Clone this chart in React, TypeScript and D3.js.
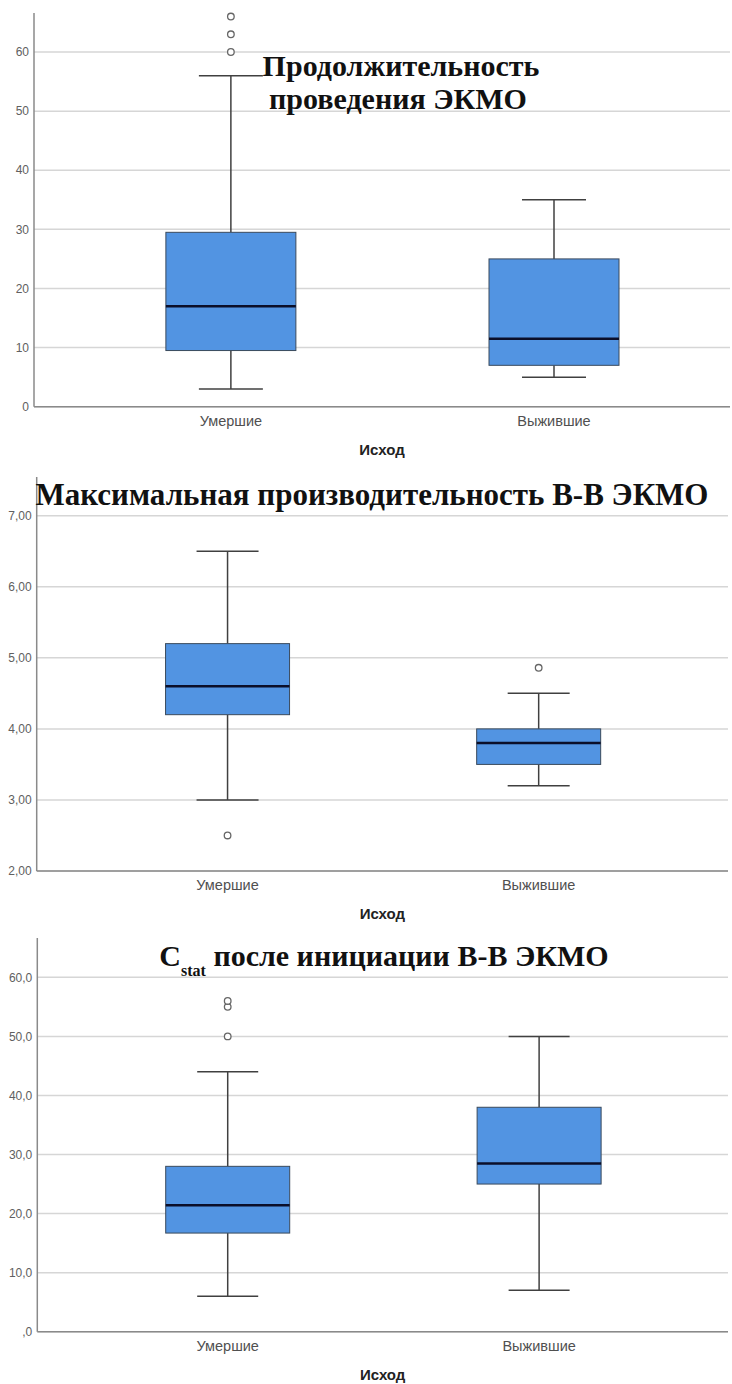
import { scaleLinear, scalePoint } from 'd3'

const width = 732
const height = 1384

const categories = ['Умершие', 'Выжившие']
const axisTitle = 'Исход'

// Продолжительность проведения ЭКМО
const durationLow = [3, 5]
const durationQ1 = [9.5, 7]
const durationMedian = [17, 11.5]
const durationQ3 = [29.5, 25]
const durationHigh = [56, 35]
const durationOutliers = [[60, 63, 66], []]
const durationTicks = [0, 10, 20, 30, 40, 50, 60]
const durationTickLabels = ['0', '10', '20', '30', '40', '50', '60']

// Максимальная производительность В-В ЭКМО
const flowLow = [3.0, 3.2]
const flowQ1 = [4.2, 3.5]
const flowMedian = [4.6, 3.8]
const flowQ3 = [5.2, 4.0]
const flowHigh = [6.5, 4.5]
const flowOutliers = [[2.5], [4.86]]
const flowTicks = [2, 3, 4, 5, 6, 7]
const flowTickLabels = ['2,00', '3,00', '4,00', '5,00', '6,00', '7,00']

// Cstat после инициации В-В ЭКМО
const cstatLow = [6, 7]
const cstatQ1 = [16.7, 25]
const cstatMedian = [21.4, 28.5]
const cstatQ3 = [28, 38]
const cstatHigh = [44, 50]
const cstatOutliers = [[50, 55, 56], []]
const cstatTicks = [0, 10, 20, 30, 40, 50, 60]
const cstatTickLabels = [',0', '10,0', '20,0', '30,0', '40,0', '50,0', '60,0']

const boxFill = '#5294e2'
const sans = 'Arial, "Liberation Sans", sans-serif'
const serif = '"Times New Roman", "Liberation Serif", serif'

function BoxPanel({ frame, domain, ticks, tickLabels, low, q1, median, q3, high, outliers, children }) {
  const { top, bottom, left, right, padding, align, boxWidth, capWidth } = frame
  const y = scaleLinear().domain(domain).range([bottom, top])
  const x = scalePoint().domain(categories).range([left, right]).padding(padding).align(align)
  const mid = (left + right) / 2

  return (
    <g>
      {ticks.map((t, i) => (
        <g key={t}>
          <line x1={left} x2={right} y1={y(t)} y2={y(t)} stroke="#d6d6d6" strokeWidth={1.5} />
          <text
            x={left - 5}
            y={y(t)}
            dy=".35em"
            textAnchor="end"
            fontFamily={sans}
            fontSize={12}
            fill="#606060"
          >
            {tickLabels[i]}
          </text>
        </g>
      ))}
      <line x1={left} x2={left} y1={top} y2={bottom} stroke="#8a8a8a" strokeWidth={1.5} />
      <line x1={left} x2={right} y1={bottom} y2={bottom} stroke="#8a8a8a" strokeWidth={1.5} />

      {categories.map((c, i) => {
        const cx = x(c)
        return (
          <g key={c}>
            <line x1={cx} x2={cx} y1={y(high[i])} y2={y(q3[i])} stroke="#404040" strokeWidth={1.5} />
            <line x1={cx} x2={cx} y1={y(q1[i])} y2={y(low[i])} stroke="#404040" strokeWidth={1.5} />
            <line
              x1={cx - capWidth / 2}
              x2={cx + capWidth / 2}
              y1={y(high[i])}
              y2={y(high[i])}
              stroke="#404040"
              strokeWidth={1.5}
            />
            <line
              x1={cx - capWidth / 2}
              x2={cx + capWidth / 2}
              y1={y(low[i])}
              y2={y(low[i])}
              stroke="#404040"
              strokeWidth={1.5}
            />
            <rect
              x={cx - boxWidth / 2}
              y={y(q3[i])}
              width={boxWidth}
              height={y(q1[i]) - y(q3[i])}
              fill={boxFill}
              stroke="#3a4a5c"
              strokeWidth={1}
            />
            <line
              x1={cx - boxWidth / 2}
              x2={cx + boxWidth / 2}
              y1={y(median[i])}
              y2={y(median[i])}
              stroke="#0b0f2a"
              strokeWidth={2.5}
            />
            {outliers[i].map((v) => (
              <circle key={v} cx={cx} cy={y(v)} r={3.3} fill="white" stroke="#666" strokeWidth={1.3} />
            ))}
            <text
              x={cx}
              y={bottom + 19}
              textAnchor="middle"
              fontFamily={sans}
              fontSize={14.5}
              fill="#505050"
            >
              {c}
            </text>
          </g>
        )
      })}
      <text
        x={mid}
        y={bottom + 48}
        textAnchor="middle"
        fontFamily={sans}
        fontWeight="bold"
        fontSize={15}
        fill="#222"
      >
        {axisTitle}
      </text>
      {children}
    </g>
  )
}

function App() {
  return (
    <svg
      width={width}
      height={height}
      style={{ position: 'absolute', left: 0, top: 0, background: 'white' }}
    >
      <BoxPanel
        frame={{ top: 13, bottom: 406.7, left: 34, right: 730, padding: 0.577, align: 0.528, boxWidth: 130, capWidth: 64 }}
        domain={[0, 66.6]}
        ticks={durationTicks}
        tickLabels={durationTickLabels}
        low={durationLow}
        q1={durationQ1}
        median={durationMedian}
        q3={durationQ3}
        high={durationHigh}
        outliers={durationOutliers}
      >
        <text textAnchor="middle" fontFamily={serif} fontWeight="bold" fontSize={30} fill="#111">
          <tspan x={401} y={76}>Продолжительность</tspan>
          <tspan x={398} y={109}>проведения ЭКМО</tspan>
        </text>
      </BoxPanel>

      <BoxPanel
        frame={{ top: 477, bottom: 871, left: 36.7, right: 728, padding: 0.611, align: 0.502, boxWidth: 124, capWidth: 62 }}
        domain={[2, 7.545]}
        ticks={flowTicks}
        tickLabels={flowTickLabels}
        low={flowLow}
        q1={flowQ1}
        median={flowMedian}
        q3={flowQ3}
        high={flowHigh}
        outliers={flowOutliers}
      >
        <text x={372} y={505} textAnchor="middle" fontFamily={serif} fontWeight="bold" fontSize={31} fill="#111">
          Максимальная производительность В-В ЭКМО
        </text>
      </BoxPanel>

      <BoxPanel
        frame={{ top: 938, bottom: 1331.7, left: 37.3, right: 728, padding: 0.609, align: 0.502, boxWidth: 124, capWidth: 61 }}
        domain={[0, 66.66]}
        ticks={cstatTicks}
        tickLabels={cstatTickLabels}
        low={cstatLow}
        q1={cstatQ1}
        median={cstatMedian}
        q3={cstatQ3}
        high={cstatHigh}
        outliers={cstatOutliers}
      >
        <text x={384} y={966} textAnchor="middle" fontFamily={serif} fontWeight="bold" fontSize={30} fill="#111">
          C
          <tspan fontSize={16} dy={10}>stat</tspan>
          <tspan dy={-10}> после инициации В-В ЭКМО</tspan>
        </text>
      </BoxPanel>
    </svg>
  )
}

export default App
